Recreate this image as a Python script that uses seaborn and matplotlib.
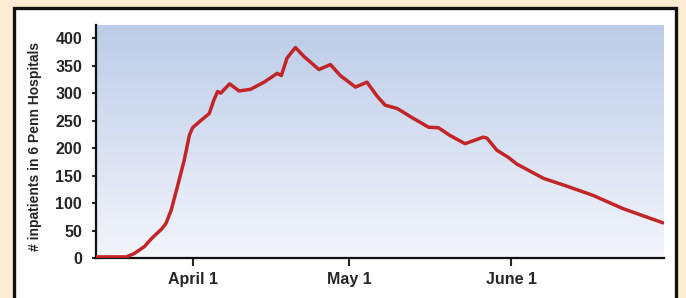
import numpy as np
import matplotlib
matplotlib.use("Agg")
import matplotlib.pyplot as plt
from matplotlib.patches import Rectangle
import seaborn as sns

# days relative to April 1
days = [-18.5, -12.7, -11.2, -9.2, -8.0, -6.8, -5.9, -5.1, -4.1, -2.9, -1.6,
        -0.6, 0.0, 1.3, 3.2, 4.1, 4.8, 5.4, 7.1, 8.9, 11.1, 13.7, 16.2, 17.0,
        18.1, 19.7, 21.3, 24.2, 26.4, 28.3, 31.2, 33.4, 35.3, 36.9, 39.2,
        42.3, 45.2, 47.1, 49.3, 52.2, 55.7, 56.4, 58.3, 60.5, 62.1, 67.2,
        71.6, 76.7, 82.4, 90.1]
inpatients = [2, 2, 8, 21, 34, 45, 53, 63, 87, 130, 178,
              224, 237, 248, 263, 288, 303, 300, 317, 304, 307, 320, 336, 332,
              364, 383, 367, 343, 352, 332, 311, 320, 295, 278, 272,
              254, 238, 237, 223, 208, 220, 218, 196, 183, 171, 145,
              131, 114, 90, 64]

tick_days = [0, 30, 61]
tick_labels = ["April 1", "May 1", "June 1"]
y_ticks = [0, 50, 100, 150, 200, 250, 300, 350, 400]

sns.set_style("ticks")
plt.rcParams["font.family"] = ["Liberation Sans", "DejaVu Sans"]
plt.rcParams["font.weight"] = "bold"

fig = plt.figure(figsize=(6.86, 2.98), dpi=100)
fig.patch.set_facecolor("#fdebd3")

# white panel with black frame
frame = Rectangle((13.5 / 686, -0.2), (676 - 13.5) / 686, 1.2 - 8 / 298,
                  transform=fig.transFigure, facecolor="white",
                  edgecolor="#111111", linewidth=2.4, zorder=-1)
fig.patches.append(frame)

ax = fig.add_axes([96 / 686, 1 - 258 / 298, (664 - 96) / 686, (258 - 25) / 298])
ax.set_zorder(1)
ax.set_facecolor("none")

# blue to white gradient background
grad = np.linspace(0, 1, 256).reshape(-1, 1)
top = np.array([188, 204, 232]) / 255
bot = np.array([243, 245, 251]) / 255
img = top[None, None, :] * (1 - grad[:, :, None]) + bot[None, None, :] * grad[:, :, None]
ax.imshow(img, extent=[0, 1, 0, 1], transform=ax.transAxes, aspect="auto", zorder=0)

sns.lineplot(x=days, y=inpatients, ax=ax, color="#c22527", linewidth=2.5,
             solid_joinstyle="round", solid_capstyle="round", zorder=3)

ax.set_xlim(-18.5, 90.3)
ax.set_ylim(0, 424)
ax.set_xticks(tick_days)
ax.set_xticklabels(tick_labels)
ax.set_yticks(y_ticks)
ax.tick_params(axis="x", length=6, width=1.5, pad=4, labelsize=11.5)
ax.tick_params(axis="y", length=3, width=1.5, pad=7, labelsize=11.5)
for lab in ax.get_xticklabels() + ax.get_yticklabels():
    lab.set_fontweight("bold")

for side in ["top", "right"]:
    ax.spines[side].set_visible(False)
for side in ["left", "bottom"]:
    ax.spines[side].set_linewidth(1.6)
    ax.spines[side].set_color("#111111")

ax.set_ylabel("# inpatients in 6 Penn Hospitals", fontsize=10, fontweight="bold")
ax.yaxis.set_label_coords(-0.095, 0.48)

fig.savefig("out.png", dpi=100)
